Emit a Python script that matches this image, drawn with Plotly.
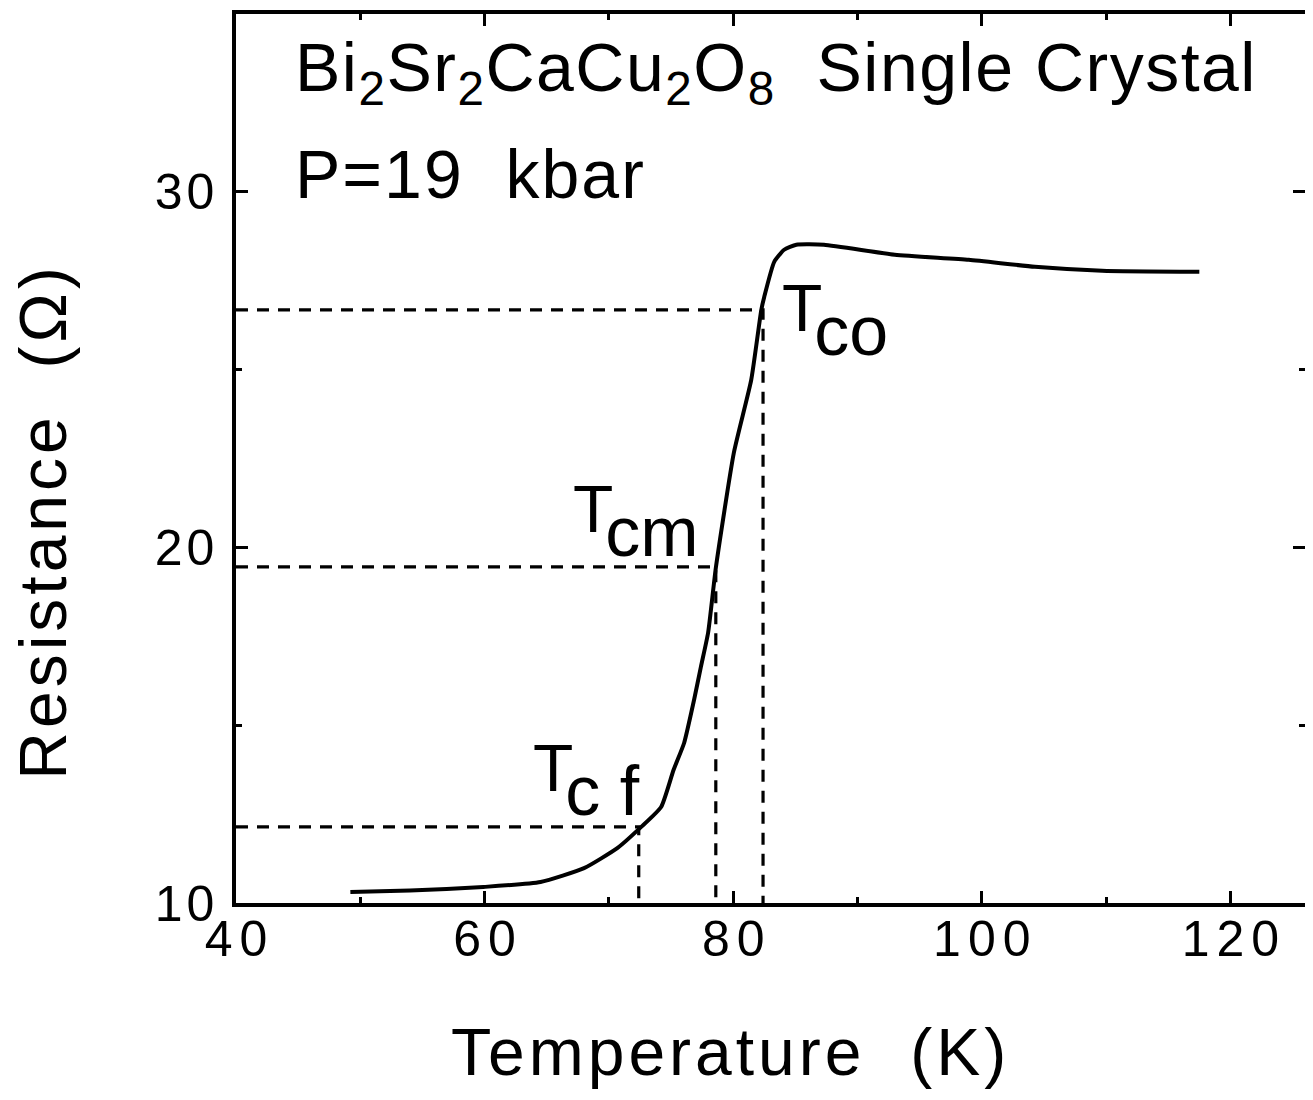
import plotly.graph_objects as go

# Resistance vs temperature curve
temperature = [49.2, 54.0, 59.9, 64.5, 68.0, 70.7, 72.6, 74.2, 75.2, 76.05, 76.85, 77.4, 77.98,
               78.6, 80.05, 81.45, 82.26, 82.5, 83.3, 84.1, 85.08, 87.3, 93.0,
               98.95, 104.27, 109.68, 117.5]
resistance = [10.31, 10.35, 10.45, 10.59, 10.98, 11.55, 12.14, 12.70, 13.74, 14.50, 15.71, 16.64, 17.6,
              19.42, 22.66, 24.71, 26.68, 27.05, 28.03, 28.37, 28.51, 28.51, 28.23,
              28.09, 27.89, 27.78, 27.75]

# Critical temperatures (Tcf, Tcm, Tco) and resistances
tc_names = ["c f", "cm", "co"]
tc_temps = [72.4, 78.6, 82.4]
tc_res = [12.14, 19.45, 26.68]

x_range = [40, 126]
y_range = [10, 35]
x_ticks = [40, 60, 80, 100, 120]
y_ticks = [10, 20, 30]

FONT = "Liberation Sans, Arial, Helvetica, sans-serif"


def spaced(s, px):
    return '<span style="letter-spacing:%spx">%s</span>' % (px, s)


def spaced_tick(v, px):
    s = str(v)
    return spaced(s[:-1], px) + s[-1]


fig = go.Figure()

# dashed guide lines
for t, r in zip(tc_temps, tc_res):
    fig.add_trace(go.Scatter(
        x=[x_range[0], t, t], y=[r, r, y_range[0]],
        mode="lines", line=dict(color="black", width=3.2, dash="12px,9px"),
        showlegend=False, hoverinfo="skip"))

fig.add_trace(go.Scatter(
    x=temperature, y=resistance, mode="lines",
    line=dict(color="black", width=4, shape="spline", smoothing=0.5),
    showlegend=False))

axis_common = dict(
    showline=True, linecolor="black", linewidth=3.5, mirror="allticks",
    ticks="inside", ticklen=12, tickwidth=3, tickcolor="black",
    showgrid=False, zeroline=False,
    tickfont=dict(family=FONT, size=50, color="black"),
)

fig.update_xaxes(range=x_range, tickvals=x_ticks, ticktext=[spaced_tick(v, 7) for v in x_ticks],
                 ticklabelstandoff=-11,
                 minor=dict(dtick=10, tick0=40, ticklen=6, tickwidth=2.5, tickcolor="black", ticks="inside"),
                 **axis_common)
fig.update_yaxes(range=y_range, tickvals=y_ticks, ticktext=[spaced_tick(v, 4) for v in y_ticks],
                 ticklabelstandoff=8,
                 minor=dict(dtick=5, tick0=10, ticklen=6, tickwidth=2.5, tickcolor="black", ticks="inside"),
                 **axis_common)

# page has an 8px body margin; compensate so the plot area sits at 236..1305 x 10..903
OFF = 8
W, H = 1313 - OFF, 1100 - OFF
L, T_ = 236 - OFF, 10 - OFF
PW, PH = 1069, 893
R_ = W - L - PW
B = H - T_ - PH


def px2paper(px, py):
    return (px - 236) / PW, (903 - py) / PH


annotations = []
# Title lines
ax, ay = px2paper(293, 23)
annotations.append(dict(x=ax, y=ay, xref="paper", yref="paper", xanchor="left", yanchor="top",
                        text=spaced("Bi<sub>2</sub>Sr<sub>2</sub>CaCu<sub>2</sub>O<sub>8</sub>\u00a0\u00a0Single\u00a0Crystal", 1.5),
                        showarrow=False, font=dict(family=FONT, size=68, color="black")))
ax, ay = px2paper(293, 131)
annotations.append(dict(x=ax, y=ay, xref="paper", yref="paper", xanchor="left", yanchor="top",
                        text=spaced("P=19\u00a0\u00a0kbar", 2),
                        showarrow=False, font=dict(family=FONT, size=68, color="black")))
# Axis titles
ax, ay = px2paper(730, 1053)
annotations.append(dict(x=ax, y=ay, xref="paper", yref="paper", xanchor="center", yanchor="middle",
                        text=spaced("Temperature\u00a0\u00a0(K)", 4), showarrow=False,
                        font=dict(family=FONT, size=66, color="black")))
ax, ay = px2paper(43, 520)
annotations.append(dict(x=ax, y=ay, xref="paper", yref="paper", xanchor="center", yanchor="middle",
                        text=spaced("Resistance\u00a0\u00a0(\u03a9)", 4), showarrow=False, textangle=-90,
                        font=dict(family=FONT, size=66, color="black")))

# T labels: (T left px, T baseline px)
label_pos = [(531, 788), (571, 528), (780, 326)]
for name, (tx, tb) in zip(tc_names, label_pos):
    fs = 66
    ax, ay = px2paper(tx, tb - 0.905 * fs)
    txt = ('<span style="letter-spacing:-8px">T</span><sub><sub>'
           '<span style="font-size:70px">%s</span></sub></sub>' % name.replace(" ", "\u00a0"))
    annotations.append(dict(x=ax, y=ay, xref="paper", yref="paper", xanchor="left", yanchor="top",
                            text=txt, showarrow=False, font=dict(family=FONT, size=fs, color="black")))

fig.update_layout(
    width=W, height=H,
    margin=dict(l=L, r=R_, t=T_, b=B),
    paper_bgcolor="white", plot_bgcolor="white",
    annotations=annotations,
)

fig.write_html("out.html")
